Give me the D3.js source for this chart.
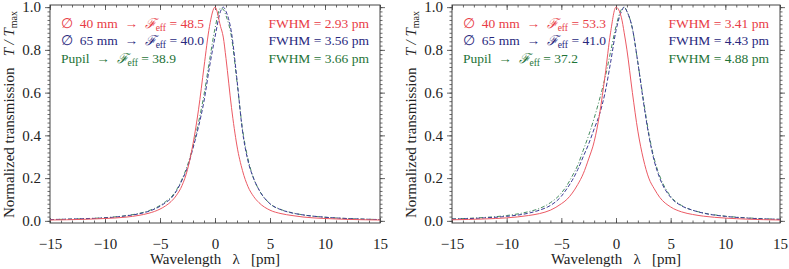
<!DOCTYPE html>
<html>
<head>
<meta charset="utf-8">
<style>
body{ margin:0; background:#fff; }
svg{ display:block; font-family:"Liberation Serif","DejaVu Serif",serif; }
.tick text{ font-size:15px; fill:#222; font-family:"Liberation Serif",serif; }
.ax path.domain{ display:none; }
.ax .tick line{ stroke:#444; stroke-width:0.8px; }
.curve{ fill:none; stroke-width:1px; }
text{ white-space:pre; }
</style>
</head>
<body>
<script src="https://cdn.jsdelivr.net/npm/d3@7"></script>
<script>
  var WIDTH = 789;
  var HEIGHT = 269;

  // wavelength grid [pm] shared by all curves
  var lambda = [-15,-12,-10,-8,-7,-6,-5,-4.5,-4,-3.5,-3,-2.5,-2,-1.5,-1,-0.5,0,0.5,0.75,1,1.5,2,2.5,3,3.5,4,5,6,7,8,10,12,15];

  // left panel
  var redL   = [0.004,0.007,0.011,0.018,0.025,0.036,0.055,0.07,0.09,0.12,0.165,0.24,0.36,0.52,0.72,0.91,1.0,0.91,0.86,0.76,0.53,0.35,0.235,0.16,0.115,0.085,0.05,0.034,0.025,0.018,0.011,0.007,0.004];
  var navyL  = [0.006,0.01,0.014,0.024,0.032,0.045,0.068,0.085,0.105,0.14,0.19,0.25,0.34,0.44,0.56,0.72,0.86,0.98,1.0,0.98,0.88,0.66,0.42,0.28,0.2,0.145,0.08,0.052,0.037,0.028,0.017,0.011,0.006];
  var greenL = [0.006,0.01,0.015,0.025,0.034,0.048,0.072,0.09,0.11,0.145,0.195,0.26,0.35,0.46,0.59,0.75,0.9,0.995,0.99,0.96,0.86,0.65,0.43,0.29,0.2,0.145,0.08,0.053,0.038,0.028,0.017,0.011,0.006];

  // right panel
  var redR   = [0.005,0.009,0.014,0.025,0.034,0.05,0.08,0.1,0.13,0.17,0.22,0.29,0.37,0.5,0.68,0.88,1.0,0.95,0.88,0.8,0.6,0.42,0.29,0.2,0.15,0.11,0.065,0.042,0.03,0.022,0.013,0.008,0.004];
  var navyR  = [0.008,0.014,0.021,0.036,0.05,0.072,0.115,0.15,0.19,0.24,0.3,0.36,0.43,0.5,0.6,0.74,0.89,0.98,1.0,0.98,0.9,0.74,0.56,0.4,0.28,0.2,0.11,0.07,0.05,0.036,0.021,0.013,0.007];
  var greenR = [0.009,0.016,0.025,0.043,0.058,0.085,0.13,0.165,0.21,0.26,0.33,0.4,0.48,0.57,0.67,0.79,0.91,0.99,1.0,0.98,0.9,0.74,0.57,0.41,0.29,0.21,0.115,0.072,0.05,0.037,0.022,0.014,0.007];

  var apertures = ["40 mm", "65 mm", "Pupil"];
  var feffL = ["48.5", "40.0", "38.9"];
  var feffR = ["53.3", "41.0", "37.2"];
  var fwhmL = ["2.93", "3.56", "3.66"];
  var fwhmR = ["3.41", "4.43", "4.88"];

  var xTicks = [-15,-10,-5,0,5,10,15];
  var yTicks = [0,0.2,0.4,0.6,0.8,1.0];

  var textColors = ["rgb(232,60,70)", "rgb(40,40,125)", "rgb(30,115,55)"];
  var lineColors = ["rgb(236,90,100)", "rgb(60,60,150)", "rgb(70,140,95)"];
  var dashes = [null, "4,2", "4,2,1,2"];

  var panels = [
    {x0:50,  x1:380, series:[redL, navyL, greenL], feff:feffL, fwhm:fwhmL},
    {x0:452, x1:780, series:[redR, navyR, greenR], feff:feffR, fwhm:fwhmR}
  ];

  var svg = d3.select("body").append("svg")
    .attr("width", WIDTH)
    .attr("height", HEIGHT);

  var yScale = d3.scaleLinear().domain([-0.01, 1.01]).range([223, 5]);

  panels.forEach(drawPanel);

  function drawPanel(p){
    var xScale = d3.scaleLinear().domain([-15, 15]).range([p.x0, p.x1]);
    var g = svg.append("g");
    var top = yScale.range()[1], bot = yScale.range()[0];

    // minor + major x ticks, pointing inward (bottom and top)
    var xMinor = d3.range(-15, 15.1, 1);
    g.append("g").attr("class","ax").attr("transform",`translate(0,${bot})`)
      .call(d3.axisBottom(xScale).tickValues(xMinor).tickSize(-2.5).tickFormat(""));
    g.append("g").attr("class","ax").attr("transform",`translate(0,${bot})`)
      .call(d3.axisBottom(xScale).tickValues(xTicks).tickSize(-5).tickFormat(""));
    g.append("g").attr("class","ax").attr("transform",`translate(0,${bot})`)
      .call(d3.axisBottom(xScale).tickValues(xTicks).tickSize(0).tickPadding(15));
    g.append("g").attr("class","ax").attr("transform",`translate(0,${top})`)
      .call(d3.axisTop(xScale).tickValues(xMinor).tickSize(-2.5).tickFormat(""));
    g.append("g").attr("class","ax").attr("transform",`translate(0,${top})`)
      .call(d3.axisTop(xScale).tickValues(xTicks).tickSize(-5).tickFormat(""));

    // y ticks, pointing outward on both sides
    var yMinor = d3.range(0, 1.001, 0.02);
    g.append("g").attr("class","ax").attr("transform",`translate(${p.x0},0)`)
      .call(d3.axisLeft(yScale).tickValues(yMinor).tickSize(2.5).tickFormat(""));
    g.append("g").attr("class","ax").attr("transform",`translate(${p.x0},0)`)
      .call(d3.axisLeft(yScale).tickValues(yTicks).tickSize(5).tickPadding(4).tickFormat(d3.format(".1f")));
    g.append("g").attr("class","ax").attr("transform",`translate(${p.x1},0)`)
      .call(d3.axisRight(yScale).tickValues(yMinor).tickSize(2.5).tickFormat(""));
    g.append("g").attr("class","ax").attr("transform",`translate(${p.x1},0)`)
      .call(d3.axisRight(yScale).tickValues(yTicks).tickSize(5).tickFormat(""));

    // frame
    g.append("rect")
      .attr("x", p.x0).attr("y", top)
      .attr("width", p.x1 - p.x0).attr("height", bot - top)
      .attr("fill", "none").attr("stroke", "#444").attr("stroke-width", 1);

    // curves
    var valueline = d3.line()
      .x(function(d) { return xScale(d[0]); })
      .y(function(d) { return yScale(d[1]); })
      .curve(d3.curveMonotoneX);

    p.series.slice().reverse().forEach(function(s, j){
      var i = p.series.length - 1 - j;
      g.append("path")
        .attr("class", "curve")
        .attr("d", valueline(lambda.map((l, k) => [l, s[k]])))
        .attr("stroke", lineColors[i])
        .attr("stroke-dasharray", dashes[i]);
    });

    // legend, left block
    apertures.forEach(function(a, i){
      var t = g.append("text")
        .attr("x", p.x0 + 11).attr("y", 27.5 + i * 17.8)
        .attr("fill", textColors[i])
        .style("font-size", "13.5px");
      t.append("tspan").text(i < 2 ? "\u2205  " + a + "  \u2192  " : a + "  \u2192  ");
      t.append("tspan").style("font-style", "italic").text("\u2131");
      t.append("tspan").attr("dy", 3).style("font-size", "9.5px").text("eff");
      t.append("tspan").attr("dy", -3).text(" = " + p.feff[i]);
    });

    // legend, FWHM block
    p.fwhm.forEach(function(f, i){
      g.append("text")
        .attr("x", p.x1 - 11).attr("y", 27.5 + i * 17.8)
        .attr("text-anchor", "end")
        .attr("fill", textColors[i])
        .style("font-size", "13.5px")
        .text("FWHM = " + f + " pm");
    });

    // axis titles
    g.append("text")
      .attr("x", (p.x0 + p.x1) / 2).attr("y", 264)
      .attr("text-anchor", "middle")
      .attr("fill", "#222")
      .style("font-size", "15px")
      .text("Wavelength   \u03bb   [pm]");

    var yl = g.append("text")
      .attr("transform", `translate(${p.x0 - 36},218) rotate(-90)`)
      .attr("fill", "#222")
      .style("font-size", "15px");
    yl.append("tspan").text("Normalized transmission   ");
    yl.append("tspan").style("font-style", "italic").text("T / T");
    yl.append("tspan").attr("dy", 3).style("font-size", "10px").text("max");
  }
</script>
</body>
</html>
